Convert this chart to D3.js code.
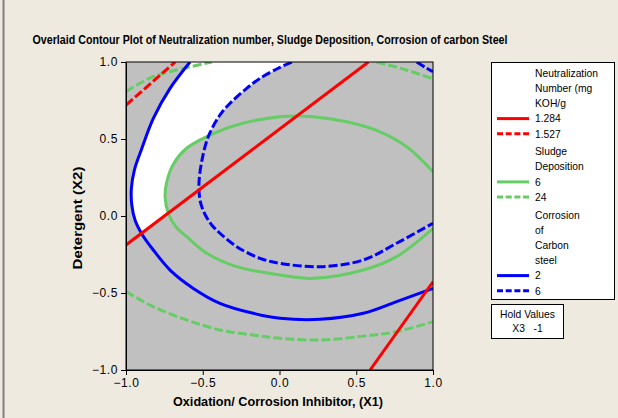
<!DOCTYPE html>
<html><head><meta charset="utf-8">
<script src="https://cdn.jsdelivr.net/npm/d3@7"></script>
<style>body{margin:0;background:#EEEAE0;}svg{display:block;font-family:"Liberation Sans",Arial,sans-serif;}</style>
</head><body><svg id="c" width="618" height="418"></svg>
<script>
const title = "Overlaid Contour Plot of Neutralization number, Sludge Deposition, Corrosion of carbon Steel";
const xLabel = "Oxidation/ Corrosion Inhibitor, (X1)";
const yLabel = "Detergent (X2)";
const xTicks = [-1, -0.5, 0, 0.5, 1];
const yTicks = [-1, -0.5, 0, 0.5, 1];

// contour lines (X1, X2)
const neut1284a = [[-1, -0.188], [0.579, 1.0]];
const neut1284b = [[0.59, -1.0], [1.0, -0.427]];
const neut1527 = [[-1, 0.72], [-0.68, 1.0]];
const sludge6 = [[1.0, 0.288], [0.829, 0.45], [0.655, 0.547], [0.438, 0.612], [0.22, 0.645], [0.003, 0.645], [-0.279, 0.591], [-0.474, 0.515], [-0.605, 0.44], [-0.69, 0.34], [-0.735, 0.22], [-0.745, 0.12], [-0.725, 0.02], [-0.675, -0.07], [-0.605, -0.134], [-0.474, -0.242], [-0.279, -0.329], [0.003, -0.383], [0.22, -0.405], [0.546, -0.351], [0.763, -0.264], [1.0, -0.08]];
const sludge24a = [[-1.0, 0.807], [-0.824, 0.905], [-0.67, 0.948], [-0.44, 1.0]];
const sludge24b = [[0.633, 1.0], [0.827, 0.948], [1.0, 0.89]];
const sludge24c = [[-1.0, -0.491], [-0.822, -0.589], [-0.605, -0.675], [-0.388, -0.74], [-0.171, -0.773], [0.003, -0.794], [0.264, -0.805], [0.546, -0.78], [0.763, -0.751], [1.0, -0.686]];
const corr2 = [[-0.583, 1.0], [-0.713, 0.829], [-0.822, 0.634], [-0.9, 0.43], [-0.945, 0.3], [-0.965, 0.18], [-0.962, 0.07], [-0.94, -0.03], [-0.895, -0.12], [-0.822, -0.221], [-0.713, -0.351], [-0.561, -0.47], [-0.388, -0.567], [-0.171, -0.632], [0.003, -0.664], [0.264, -0.671], [0.546, -0.632], [0.763, -0.556], [1.0, -0.47]];
const corr6a = [[0.08, 1.0], [0.003, 0.965], [-0.127, 0.894], [-0.214, 0.829], [-0.322, 0.732], [-0.388, 0.656], [-0.464, 0.515], [-0.507, 0.353], [-0.525, 0.2], [-0.515, 0.09], [-0.485, 0.01], [-0.44, -0.06], [-0.388, -0.112], [-0.279, -0.199], [-0.127, -0.275], [0.003, -0.307], [0.264, -0.329], [0.546, -0.286], [0.763, -0.177], [1.0, -0.047]];
const corr6b = [[0.894, 1.0], [0.95, 0.965], [1.0, 0.937]];
// feasible (white) region boundary
const feasible = [[-0.583, 1], [0.08, 1], [0.003, 0.965], [-0.127, 0.894], [-0.214, 0.829], [-0.322, 0.732], [-0.388, 0.656], [-0.47, 0.515], [-0.605, 0.44], [-0.69, 0.34], [-0.735, 0.22], [-0.745, 0.12], [-0.728, 0.03], [-0.9, -0.113], [-0.94, -0.03], [-0.962, 0.07], [-0.965, 0.18], [-0.945, 0.3], [-0.9, 0.43], [-0.822, 0.634], [-0.713, 0.829]];

const legendGroups = [
  {title: ["Neutralization", "Number (mg", "KOH/g"], color: "#FF0000", items: ["1.284", "1.527"]},
  {title: ["Sludge", "Deposition"], color: "#66CC66", items: ["6", "24"]},
  {title: ["Corrosion", "of", "Carbon", "steel"], color: "#0000FF", items: ["2", "6"]}
];
const holdLines = ["Hold Values", "X3   -1"];

const svg = d3.select("#c");
const W = 618, H = 418;
const m = {l: 126, r: 433, t: 62, b: 370};
const x = d3.scaleLinear().domain([-1, 1]).range([m.l, m.r]);
const y = d3.scaleLinear().domain([-1, 1]).range([m.b, m.t]);

svg.append("rect").attr("width", W).attr("height", H).attr("fill", "#EEEAE0");
svg.append("line").attr("x1", 3.5).attr("x2", 3.5).attr("y1", 0).attr("y2", H).attr("stroke", "#808080").attr("stroke-width", 2);

svg.append("text").attr("x", 270).attr("y", 43.5).attr("text-anchor", "middle")
  .attr("font-size", 12).attr("font-weight", "bold").attr("fill", "#000")
  .attr("textLength", 475).attr("lengthAdjust", "spacingAndGlyphs").text(title);

svg.append("defs").append("clipPath").attr("id", "clip").append("rect")
  .attr("x", m.l).attr("y", m.t).attr("width", m.r - m.l).attr("height", m.b - m.t);

svg.append("rect").attr("x", m.l).attr("y", m.t).attr("width", m.r - m.l).attr("height", m.b - m.t).attr("fill", "#C0C0C0");

const g = svg.append("g").attr("clip-path", "url(#clip)");
g.append("path").datum(feasible).attr("fill", "#FFFFFF")
  .attr("d", d3.line().x(d => x(d[0])).y(d => y(d[1])).curve(d3.curveLinearClosed));

const line = d3.line().x(d => x(d[0])).y(d => y(d[1])).curve(d3.curveCatmullRom);
const dash = "9,3";
const curves = [
  [sludge6, "#66CC66", null], [sludge24a, "#66CC66", dash], [sludge24b, "#66CC66", dash], [sludge24c, "#66CC66", dash],
  [corr2, "#0000FF", null], [corr6a, "#0000FF", dash], [corr6b, "#0000FF", dash],
  [neut1284a, "#FF0000", null], [neut1284b, "#FF0000", null], [neut1527, "#FF0000", dash]
];
curves.forEach(([d, c, da]) => {
  g.append("path").datum(d).attr("fill", "none").attr("stroke", c).attr("stroke-width", 3)
    .attr("stroke-dasharray", da).attr("d", line);
});

svg.append("rect").attr("x", m.l).attr("y", m.t).attr("width", m.r - m.l).attr("height", m.b - m.t)
  .attr("fill", "none").attr("stroke", "#000").attr("stroke-width", 1);

const fmt = d3.format(".1f");
const xa = svg.append("g").attr("transform", `translate(0,${m.b})`)
  .call(d3.axisBottom(x).tickValues(xTicks).tickFormat(fmt).tickSize(5).tickPadding(3));
const ya = svg.append("g").attr("transform", `translate(${m.l},0)`)
  .call(d3.axisLeft(y).tickValues(yTicks).tickFormat(fmt).tickSize(5).tickPadding(3));
[xa, ya].forEach(a => {
  a.select(".domain").attr("stroke", "#000");
  a.selectAll("text").attr("font-size", 12).attr("font-family", "Liberation Sans, Arial, sans-serif")
    .attr("letter-spacing", 0.6).attr("fill", "#000");
  a.selectAll("line").attr("stroke", "#000");
});

svg.append("text").attr("x", 278).attr("y", 406).attr("text-anchor", "middle")
  .attr("font-size", 12).attr("font-weight", "bold").attr("textLength", 210).attr("lengthAdjust", "spacingAndGlyphs").text(xLabel);
svg.append("text").attr("transform", "translate(82,218) rotate(-90)").attr("text-anchor", "middle")
  .attr("font-size", 12).attr("font-weight", "bold").attr("textLength", 103).attr("lengthAdjust", "spacingAndGlyphs").text(yLabel);

// legend
svg.append("rect").attr("x", 491.5).attr("y", 62.5).attr("width", 123).attr("height", 237)
  .attr("fill", "#FFFFFF").attr("stroke", "#000");
let ly = 73;
const lh = 15.2;
legendGroups.forEach(grp => {
  grp.title.forEach(t => {
    svg.append("text").attr("x", 535).attr("y", ly + 3.7).attr("font-size", 10.3).text(t);
    ly += lh;
  });
  grp.items.forEach((it, i) => {
    svg.append("line").attr("x1", 497).attr("x2", 529).attr("y1", ly).attr("y2", ly)
      .attr("stroke", grp.color).attr("stroke-width", 3).attr("stroke-dasharray", i === 1 ? "6,2.7" : null);
    svg.append("text").attr("x", 535).attr("y", ly + 3.7).attr("font-size", 10.3).text(it);
    ly += lh;
  });
  ly += 2.5;
});

svg.append("rect").attr("x", 491.5).attr("y", 304.5).attr("width", 72).attr("height", 34)
  .attr("fill", "#FFFFFF").attr("stroke", "#000");
holdLines.forEach((t, i) => {
  svg.append("text").attr("x", 527.5).attr("y", 318 + i * 14).attr("text-anchor", "middle")
    .attr("font-size", 10.3).attr("xml:space", "preserve").style("white-space", "pre").text(t);
});
</script></body></html>
